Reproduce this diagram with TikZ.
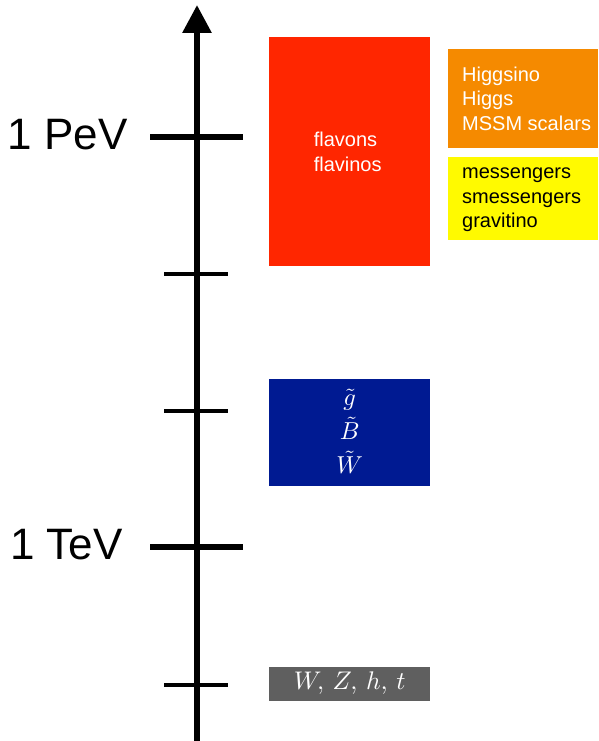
\documentclass[tikz,border=0pt]{standalone}
\usepackage{fontspec}
\setmainfont{Liberation Sans}
\usetikzlibrary{arrows.meta}
\definecolor{redbox}{HTML}{FF2600}
\definecolor{orangebox}{HTML}{F58A00}
\definecolor{yellowbox}{HTML}{FFFA00}
\definecolor{bluebox}{HTML}{001A92}
\definecolor{graybox}{HTML}{5F5F5F}
\newcommand{\bigmath}[2]{\scalebox{#1}{$#2$}}
\begin{document}
\begin{tikzpicture}[x=1pt,y=-1pt,
  box/.style={draw=none, inner sep=0pt, anchor=north west},
  majortick/.style={line width=6.5pt},
  minortick/.style={line width=3.5pt},
  boxtext/.style={font=\fontsize{20}{24.5}\selectfont, align=left, inner sep=0pt, text=white},
  mathtext/.style={text=white, align=center, inner sep=0pt},
  scale label/.style={font=\fontsize{44}{50}\selectfont, inner sep=0pt, anchor=east}]
\useasboundingbox (0,0) rectangle (598,741);
% axis
\coordinate (axisbot) at (197,745);
\coordinate (axistop) at (197,5);
\draw[line width=6pt, -{Triangle[length=28pt,width=28pt]}] (axisbot) -- (axistop);
% major ticks
\coordinate (pevL) at (150,137); \coordinate (pevR) at (243,137);
\coordinate (tevL) at (150,547); \coordinate (tevR) at (243,547);
\draw[majortick] (pevL) -- (pevR);
\draw[majortick] (tevL) -- (tevR);
% minor ticks
\coordinate (m1L) at (164,274); \coordinate (m1R) at (228,274);
\coordinate (m2L) at (164,411); \coordinate (m2R) at (228,411);
\coordinate (m3L) at (164,685); \coordinate (m3R) at (228,685);
\draw[minortick] (m1L) -- (m1R);
\draw[minortick] (m2L) -- (m2R);
\draw[minortick] (m3L) -- (m3R);
% labels
\node[scale label] (pev) at (128,135) {1 PeV};
\node[scale label] (tev) at (123,545) {1 TeV};
% boxes
\node[box, fill=redbox, minimum width=161pt, minimum height=229pt] (red) at (269,37) {};
\node[boxtext] (redtxt) at ([xshift=-2pt]red.center) {flavons\\flavinos};
\node[box, fill=orangebox, minimum width=150pt, minimum height=99pt] (orange) at (448,49) {};
\node[boxtext, anchor=west] (orangetxt) at ([xshift=14pt]orange.west) {Higgsino\\Higgs\\MSSM scalars};
\node[box, fill=yellowbox, minimum width=150pt, minimum height=83pt] (yellow) at (448,157) {};
\node[boxtext, text=black, anchor=west] (yellowtxt) at ([xshift=14pt,yshift=-1pt]yellow.west) {messengers\\smessengers\\gravitino};
\node[box, fill=bluebox, minimum width=161pt, minimum height=107pt] (blue) at (269,379) {};
\node[mathtext, font=\fontsize{10}{34}\selectfont] (bluetxt) at ([yshift=1pt]blue.center) {\bigmath{2.45}{\tilde g}\\\bigmath{2.45}{\tilde B}\\\bigmath{2.45}{\tilde W}};
\node[box, fill=graybox, minimum width=161pt, minimum height=34pt] (gray) at (269,667) {};
\node[mathtext] (graytxt) at ([yshift=1pt]gray.center) {\bigmath{2.55}{W,\, Z,\, h,\, t}};
\end{tikzpicture}
\end{document}
